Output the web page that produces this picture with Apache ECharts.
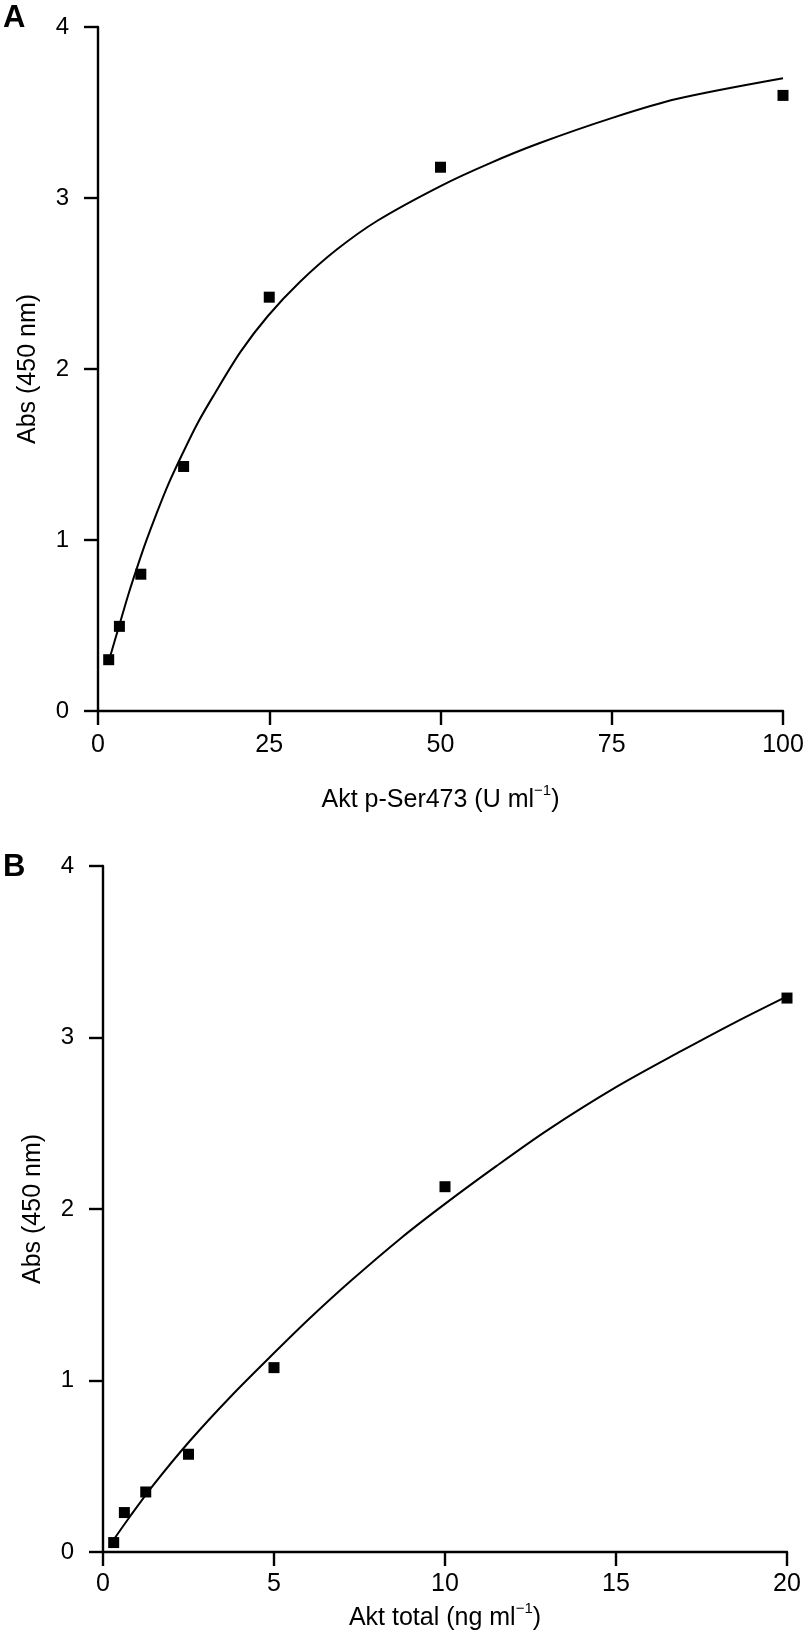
<!DOCTYPE html>
<html>
<head>
<meta charset="utf-8">
<script src="https://cdn.jsdelivr.net/npm/echarts@6/dist/echarts.min.js"></script>
<style>
  html, body { margin: 0; padding: 0; background: #fff; }
  #chart { width: 808px; height: 1650px; }
</style>
</head>
<body>
<div id="chart"></div>
<script>
// panel A: Akt p-Ser473 standards
const concA = [1.5625, 3.125, 6.25, 12.5, 25, 50, 100];
const absA = [0.30, 0.495, 0.80, 1.43, 2.42, 3.18, 3.60];
// fitted curve A
const fitXA = [1.56, 3.1, 4.5, 5.8, 7.0, 8.5, 10.2, 12.4, 14.5, 16.8, 20.8, 24.8, 29.5, 34.9, 40.9, 50, 57, 64.4, 75.2, 84.6, 100];
const fitYA = [0.29, 0.50, 0.69, 0.85, 0.99, 1.15, 1.32, 1.51, 1.68, 1.84, 2.10, 2.31, 2.51, 2.70, 2.87, 3.07, 3.20, 3.32, 3.47, 3.58, 3.70];
const ticksA = [0, 25, 50, 75, 100];

// panel B: Akt total standards
const concB = [0.3125, 0.625, 1.25, 2.5, 5, 10, 20];
const absB = [0.055, 0.23, 0.35, 0.57, 1.075, 2.13, 3.23];
const fitXB = [0.27, 0.8, 1.47, 2.55, 3.75, 5.0, 6.03, 7.24, 8.71, 10, 11.5, 13.0, 15.0, 16.9, 18.5, 20];
const fitYB = [0.06, 0.21, 0.39, 0.65, 0.91, 1.16, 1.36, 1.58, 1.83, 2.03, 2.25, 2.46, 2.71, 2.92, 3.09, 3.24];
const ticksB = [0, 5, 10, 15, 20];
const ticksY = [0, 1, 2, 3, 4];

const font = '"Liberation Sans", Arial, Helvetica, sans-serif';

function pairs(xs, ys) {
    return xs.map((x, i) => [x, ys[i]]);
}

const axisLine = { show: true, onZero: false, lineStyle: { color: '#000', width: 2.4 } };
const axisTick = { show: true, length: 14, lineStyle: { color: '#000', width: 2.4 } };
const nameRich = {
    n: { fontSize: 25, fontFamily: font, color: '#000', lineHeight: 30, verticalAlign: 'bottom' },
    s: { fontSize: 15, fontFamily: font, color: '#000', lineHeight: 30, verticalAlign: 'top' }
};

function xAxis(idx, ticks, name, gap, margin) {
    return {
        type: 'value', gridIndex: idx,
        min: ticks[0], max: ticks[ticks.length - 1], interval: ticks[1] - ticks[0],
        axisLine: axisLine, axisTick: axisTick, splitLine: { show: false },
        axisLabel: { fontSize: 25, fontFamily: font, color: '#000', margin: margin },
        name: name, nameLocation: 'middle', nameGap: gap,
        nameTextStyle: { rich: nameRich }
    };
}

function yAxis(idx) {
    return {
        type: 'value', gridIndex: idx,
        min: ticksY[0], max: ticksY[ticksY.length - 1], interval: 1,
        axisLine: axisLine, axisTick: axisTick, splitLine: { show: false },
        axisLabel: { fontSize: 24, fontFamily: font, color: '#000', margin: 29 },
        name: 'Abs (450 nm)', nameLocation: 'middle', nameGap: 57,
        nameTextStyle: { fontSize: 25, fontFamily: font, color: '#000' }
    };
}

function curve(idx, xs, ys) {
    return {
        type: 'line', xAxisIndex: idx, yAxisIndex: idx,
        data: pairs(xs, ys), smooth: 0.3, showSymbol: false,
        lineStyle: { color: '#000', width: 2 }
    };
}

function points(idx, xs, ys) {
    return {
        type: 'scatter', xAxisIndex: idx, yAxisIndex: idx,
        data: pairs(xs, ys), symbol: 'rect', symbolSize: 11,
        itemStyle: { color: '#000', opacity: 1 }, z: 3
    };
}

const myChart = echarts.init(document.getElementById('chart'), null, { renderer: 'canvas' });

const option = {
    backgroundColor: '#fff',
    animation: false,
    title: [
        { text: 'A', left: 3, top: 3, padding: 0, textStyle: { fontSize: 31, fontWeight: 'bold', fontFamily: font, color: '#000' } },
        { text: 'B', left: 3, top: 852, padding: 0, textStyle: { fontSize: 31, fontWeight: 'bold', fontFamily: font, color: '#000' } }
    ],
    grid: [
        { left: 98, top: 27, width: 685, height: 684 },
        { left: 103, top: 866, width: 684, height: 686 }
    ],
    xAxis: [
        xAxis(0, ticksA, '{n|Akt p-Ser473 (U ml}{s|−1}{n|)}', 72, 22),
        xAxis(1, ticksB, '{n|Akt total (ng ml}{s|−1}{n|)}', 49, 20)
    ],
    yAxis: [yAxis(0), yAxis(1)],
    series: [
        curve(0, fitXA, fitYA),
        points(0, concA, absA),
        curve(1, fitXB, fitYB),
        points(1, concB, absB)
    ]
};

myChart.setOption(option);
</script>
</body>
</html>
